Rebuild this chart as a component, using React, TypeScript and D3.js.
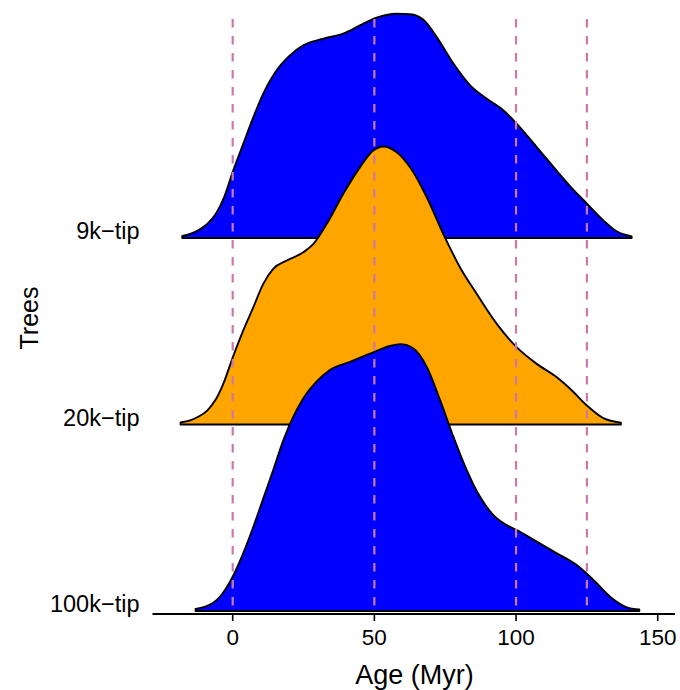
import React from "react";
import * as d3 from "d3";

// Categories (top to bottom)
const categories = ["9k−tip", "20k−tip", "100k−tip"];
const fills = ["#0000FF", "#FFA500", "#0000FF"];

// Age (Myr) sample points and density (x 1e-3)
const age9k = [-17.8, -15, -12, -9, -6, -3, 0, 3.7, 7.3, 10.8, 15.5, 20.2, 24.9, 32, 39, 44.9, 50.8, 57.9, 62.6, 67.3, 72, 77.9, 83.8, 89.7, 95.5, 100.2, 107.3, 113.2, 119.1, 125, 130.8, 135.5, 140.8];
const dens9k = [0.11, 0.22, 0.43, 0.75, 1.29, 2.2, 3.55, 5.05, 6.5, 7.76, 9.02, 9.82, 10.36, 10.72, 10.99, 11.43, 11.85, 12.06, 12.03, 11.74, 10.81, 9.38, 8.21, 7.49, 6.87, 6.15, 4.89, 3.82, 2.78, 1.85, 0.95, 0.36, 0.09];

const age20k = [-18.4, -15, -12, -9, -6, -3, 0, 3.7, 7.3, 10.8, 14.3, 19.1, 24.9, 28.5, 33.2, 39, 44.9, 49.6, 53.2, 57.9, 62.6, 68.5, 74.3, 80.2, 86.1, 93.2, 100.2, 107.3, 114.4, 119.1, 125, 130.8, 137];
const dens20k = [0.11, 0.22, 0.43, 0.75, 1.34, 2.31, 3.6, 5.05, 6.31, 7.56, 8.37, 8.82, 9.26, 9.71, 10.79, 12.4, 13.83, 14.73, 14.95, 14.64, 13.83, 12.22, 10.25, 8.46, 7.03, 5.41, 4.16, 3.26, 2.54, 1.92, 1.02, 0.34, 0.1];

const age100k = [-13.1, -10, -7, -4, 0, 3.7, 7.3, 10.8, 14.3, 17.9, 21.4, 24.9, 29.6, 34.3, 41.4, 50, 55.5, 59.1, 63.8, 68.5, 73.2, 77.9, 82.6, 87.3, 92, 96.7, 101.4, 107.3, 114.4, 121.4, 127.3, 133.2, 139.1, 143.5];
const dens100k = [0.11, 0.22, 0.43, 0.86, 1.84, 3.1, 4.53, 6.06, 7.58, 9.19, 10.45, 11.43, 12.33, 12.96, 13.4, 13.94, 14.25, 14.35, 14.12, 13.13, 11.34, 9.37, 7.58, 6.14, 5.16, 4.62, 4.26, 3.73, 3.1, 2.47, 1.67, 0.77, 0.2, 0.08];

const ages = [age9k, age20k, age100k];
const densities = [dens9k, dens20k, dens100k];

const xTicks = [0, 50, 100, 150];
const refLines = [0, 50, 100, 125];

const W = 680;
const H = 690;
const FONT = "'Liberation Sans', Arial, Helvetica, sans-serif";

export default function App() {
  const x = d3.scaleLinear().domain([-28.3, 156.1]).range([152.5, 675]);
  const base = d3.scalePoint<string>().domain(categories).range([238, 611]);
  const h = d3.scaleLinear().domain([0, 14.95]).range([0, 278]);

  const ridges = categories.map((c, i) => {
    const pts = ages[i].map((a, j) => [a, densities[i][j]] as [number, number]);
    const b = base(c) as number;
    const area = d3
      .area<[number, number]>()
      .x((d) => x(d[0]))
      .y0(b)
      .y1((d) => b - h(d[1]))
      .curve(d3.curveMonotoneX);
    return { c, b, d: area(pts) as string, fill: fills[i] };
  });

  const axisY = 614;

  return (
    <svg
      width={W}
      height={H}
      style={{ position: "absolute", left: 0, top: 0, background: "#fff" }}
      fontFamily={FONT}
    >
      {ridges.map((r) => (
        <path
          key={r.c}
          d={r.d}
          fill={r.fill}
          stroke="#000"
          strokeWidth={1.9}
          strokeLinejoin="round"
        />
      ))}
      {refLines.map((v) => (
        <line
          key={v}
          x1={x(v)}
          x2={x(v)}
          y1={19}
          y2={axisY - 1}
          stroke="#CC79A7"
          strokeWidth={2.2}
          strokeDasharray="8.5 8.5"
        />
      ))}
      {ridges.map((r) => (
        <text
          key={"l" + r.c}
          x={139.5}
          y={r.b + 1}
          textAnchor="end"
          fontSize={23.5}
          fill="#000"
        >
          {r.c}
        </text>
      ))}
      <line x1={x.range()[0]} x2={x.range()[1]} y1={axisY} y2={axisY} stroke="#000" strokeWidth={2} />
      {xTicks.map((t) => (
        <g key={t}>
          <line x1={x(t)} x2={x(t)} y1={axisY} y2={axisY + 7} stroke="#000" strokeWidth={1.6} />
          <text x={x(t)} y={645} textAnchor="middle" fontSize={22.5} fill="#000">
            {t}
          </text>
        </g>
      ))}
      <text x={414.5} y={684} textAnchor="middle" fontSize={27} fill="#000">
        Age (Myr)
      </text>
      <text
        transform="translate(38,318) rotate(-90)"
        textAnchor="middle"
        fontSize={25}
        fill="#000"
      >
        Trees
      </text>
    </svg>
  );
}
